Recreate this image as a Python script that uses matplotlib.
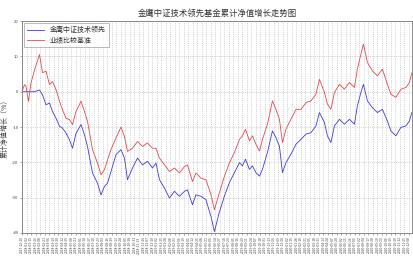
import matplotlib
matplotlib.use('Agg')
import matplotlib.pyplot as plt
import pandas as pd

plt.rcParams['font.family'] = ['Noto Sans CJK SC', 'DejaVu Sans']
plt.rcParams['axes.unicode_minus'] = False

# trading-day offsets from the first date
day = [0, 5, 8, 13, 18, 25, 35, 41, 48, 55, 61, 68, 75, 81, 88, 95, 101, 108, 118, 125,
       131, 141, 151, 158, 165, 171, 178, 188, 198, 205, 211, 221, 231, 241, 251, 261, 268,
       275, 285, 295, 305, 315, 325, 331, 341, 348, 358, 368, 378, 385, 394, 405, 415, 425,
       435, 441, 447, 455, 461, 468, 475, 481, 491, 501, 508, 515, 521, 528, 538, 548, 558,
       568, 578, 588, 595, 605, 611, 618, 625, 635, 645, 655, 665, 671, 678, 683, 691, 701,
       711, 721, 731, 738, 748, 758, 768, 775, 780]

fund = [0, 0, 0, 0, 0, 0, 0.5, -0.9, -3.7, -3.2, -5.6, -7.5, -9.8, -10.3, -11.7, -13.6, -16,
        -11.8, -9.3, -12.2, -15.5, -23, -25.9, -29.2, -26.8, -25.9, -22.6, -17.8, -16.4,
        -18.8, -24.9, -21.6, -18.8, -20.7, -19.7, -21.6, -20.2, -24.9, -27.3, -30.1, -28.2,
        -29.6, -28.2, -27.8, -32, -29.2, -29.6, -30.6, -35.3, -39.6, -34.5, -29.5, -25.7,
        -22.9, -20.1, -21, -19.1, -22, -21, -22.9, -23.9, -22, -17.2, -11.1, -13, -15.4,
        -22.9, -20.1, -17.7, -14.9, -13.5, -12, -11.6, -9.7, -5.9, -8.7, -12.5, -14.4, -9.7,
        -7.8, -9.2, -7.8, -9.2, -4, -0.2, 2.1, -2.6, -4.5, -5.9, -5, -8.3, -11.1, -12.5,
        -10.1, -9.7, -8.3, -5.9]

bench = [0, 2.0, 1.5, -2.7, 2.5, 6.2, 10.5, 5.4, 5.8, 2.0, 2.9, 0.6, -2.7, -5.1, -7.5, -7.9,
         -9.3, -5.6, -2.7, -5.6, -8.4, -16.4, -20.2, -23.5, -22, -19.3, -16.4, -13.1, -10,
         -12.7, -16.9, -16, -14.1, -15.5, -14.5, -16, -16, -18.8, -20.7, -22.6, -21.6, -23,
         -21.2, -20.7, -25.4, -23, -24.5, -24.9, -29.2, -33.4, -29, -23.9, -20.1, -17.2,
         -13.5, -12.5, -10.6, -13.9, -12.5, -14.9, -16.8, -13.5, -9.2, -2.6, -5, -7.8, -14.4,
         -10.6, -7.8, -5, -5, -3.1, -2.6, -0.7, 3.5, -0.2, -3.5, -5, -0.2, 2.1, 0.7, 2.6, 1.2,
         6.4, 10.6, 13.5, 8.3, 5.9, 4.5, 6.4, 2.1, -0.7, -1.6, 0.7, 1.2, 2.6, 5.4]

dates = pd.bdate_range('2017-12-20', periods=781)
tick_pos = list(range(0, 781, 9))
tick_lab = [dates[i].strftime('%Y-%m-%d') for i in tick_pos]
y_ticks = [20, 10, 0, -10, -20, -30, -40]

fig = plt.figure(figsize=(4.13, 2.57), dpi=100)
ax = fig.add_axes([0.0533, 0.0934, 0.944, 0.8246])

ax.plot(day, fund, color='#3c3ce0', lw=0.6, label='金鹰中证技术领先')
ax.plot(day, bench, color='#e44a4e', lw=0.6, label='业绩比较基准')

ax.set_xlim(0, 780)
ax.set_ylim(-40, 20)
ax.set_xticks(tick_pos)
ax.set_xticklabels(tick_lab, rotation=90, fontsize=2.4, color='#444444')
ax.set_yticks(y_ticks)
ax.set_yticklabels([str(v) for v in y_ticks], fontsize=3, color='#444444')
ax.tick_params(length=1.5, width=0.4, pad=1, color='#666666')
ax.grid(True, color='#b0b0b0', ls=':', lw=0.5)
for s in ax.spines.values():
    s.set_color('#777777')
    s.set_linewidth(0.6)

ax.set_title('金鹰中证技术领先基金累计净值增长走势图', fontsize=6, pad=4, color='#333333')
ax.set_ylabel('累计净值增长（%）', fontsize=5, labelpad=3, color='#444444')
leg = ax.legend(loc='upper left', fontsize=5, frameon=True, fancybox=False,
                borderaxespad=0.3, handlelength=2.5, borderpad=0.4, labelspacing=0.4)
leg.get_frame().set_edgecolor('#888888')
leg.get_frame().set_linewidth(0.5)
for t in leg.get_texts():
    t.set_color('#333333')

fig.savefig('out.png', dpi=100)
